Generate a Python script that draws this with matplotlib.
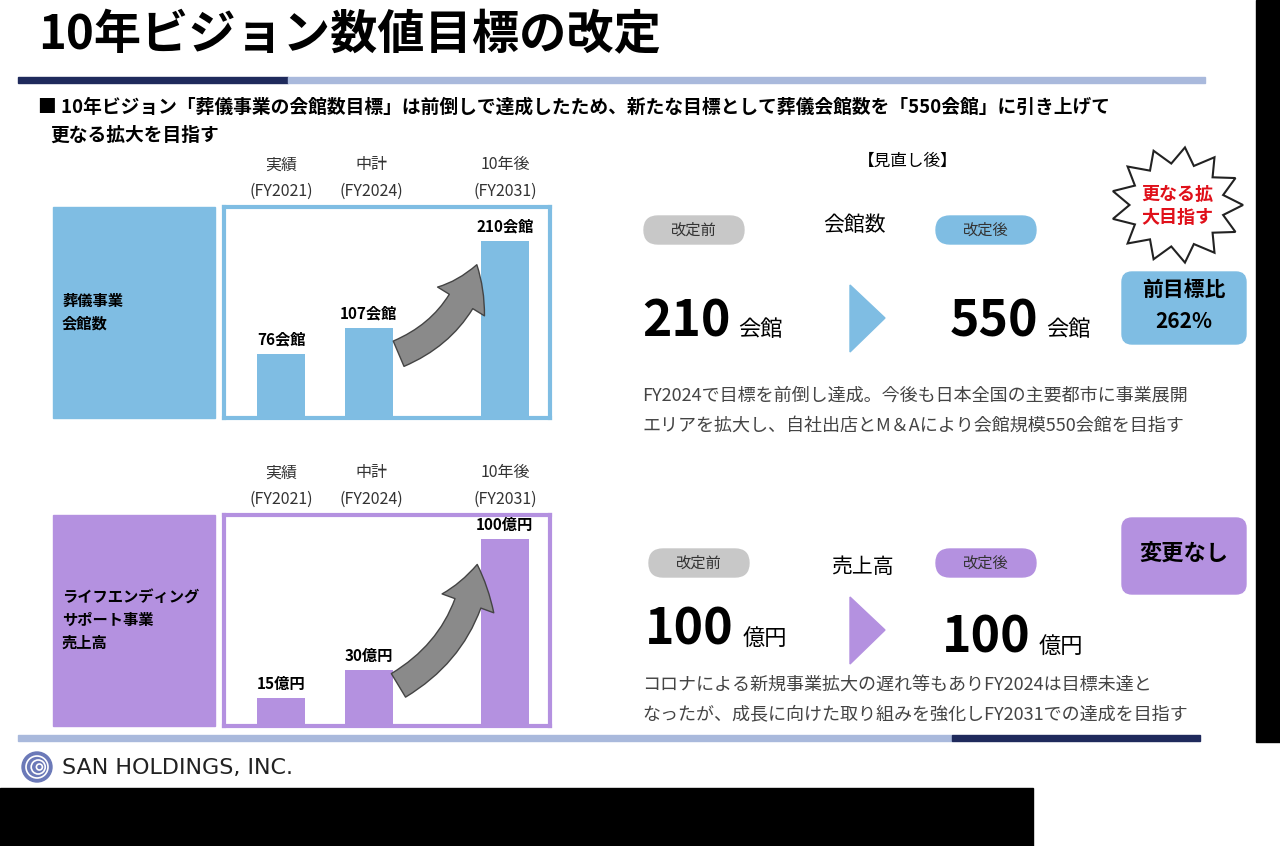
import numpy as np
import matplotlib.pyplot as plt
from matplotlib.patches import Rectangle, FancyBboxPatch, FancyArrowPatch, Polygon, Circle

plt.rcParams['font.family'] = 'Noto Sans CJK JP'

# data
periods = ['実績\n(FY2021)', '中計\n(FY2024)', '10年後\n(FY2031)']
halls = [76, 107, 210]
hall_labels = ['76会館', '107会館', '210会館']
sales = [15, 30, 100]
sales_labels = ['15億円', '30億円', '100億円']

BLUE = '#7fbde3'
PURPLE = '#b491e0'
NAVY = '#1f2a5c'
LIGHT = '#a9b9dc'

fig = plt.figure(figsize=(12.8, 8.46), dpi=100)
ax = fig.add_axes([0, 0, 1, 1])
ax.set_xlim(0, 1280)
ax.set_ylim(846, 0)
ax.axis('off')

def px(x, y, w, h):
    # pixel box -> figure fraction
    return [x / 1280, 1 - (y + h) / 846, w / 1280, h / 846]

# title and lines
ax.text(38, 35, '10年ビジョン数値目標の改定', fontsize=34, fontweight='bold', va='center')
ax.add_patch(Rectangle((18, 77), 270, 6, color=NAVY))
ax.add_patch(Rectangle((288, 77), 917, 6, color=LIGHT))
ax.add_patch(Rectangle((18, 735), 934, 6, color=LIGHT))
ax.add_patch(Rectangle((952, 735), 248, 6, color=NAVY))
ax.add_patch(Rectangle((1256, 0), 24, 742, color='black'))
ax.add_patch(Rectangle((0, 788), 1033, 58, color='black'))

ax.text(38, 107, '■ 10年ビジョン「葬儀事業の会館数目標」は前倒しで達成したため、新たな目標として葬儀会館数を「550会館」に引き上げて',
        fontsize=13.5, fontweight='bold', va='center')
ax.text(50, 135, '更なる拡大を目指す', fontsize=13.5, fontweight='bold', va='center')

# logo
ax.add_patch(Circle((37, 767), 15, color='#6b79b8'))
for r in (11, 7, 3):
    ax.add_patch(Circle((37 + (11 - r) * 0.3, 767), r, fill=False, ec='white', lw=1.2))
ax.text(62, 768, 'SAN HOLDINGS, INC.', fontsize=16, va='center', family='DejaVu Sans', color='#222')

XS = [0.63, 1.60, 3.10]

def panel(y0, values, labels, color, side_text, ymax):
    ax.add_patch(Rectangle((53, y0), 162, 211, color=color))
    ax.text(62, y0 + 105, side_text, fontsize=11, fontweight='bold', va='center', linespacing=1.5)
    for i, p in enumerate(periods):
        xc = [281, 371, 505][i]
        ax.text(xc, y0 - 29, p, fontsize=11.5, ha='center', va='center', color='#333', linespacing=1.7)
    b = fig.add_axes(px(224, y0, 326, 211))
    b.bar(XS, values, width=0.53, color=color)
    b.set_xlim(0, 3.6)
    b.set_ylim(0, ymax)
    b.set_xticks([]); b.set_yticks([])
    for s in b.spines.values():
        s.set_color(color); s.set_linewidth(3)
    for x, v, l in zip(XS, values, labels):
        b.text(x, v + ymax * 0.03, l, ha='center', va='bottom', fontsize=11, fontweight='bold')
    b.add_patch(FancyArrowPatch((1.9, values[1] * 0.7), (2.8, values[2] * 0.88),
                                connectionstyle='arc3,rad=0.25',
                                arrowstyle='simple,head_width=2.2,head_length=1.6,tail_width=1.1',
                                mutation_scale=18, fc='#8a8a8a', ec='#444', lw=1))

panel(207, halls, hall_labels, BLUE, '葬儀事業\n会館数', 250)
panel(515, sales, sales_labels, PURPLE, 'ライフエンディング\nサポート事業\n売上高', 113)

# right side
def pill(xc, yc, w, txt, color):
    ax.add_patch(FancyBboxPatch((xc - w / 2, yc - 14), w, 28,
                                boxstyle='round,pad=0,rounding_size=14', color=color))
    ax.text(xc, yc, txt, fontsize=11, ha='center', va='center', color='#333')

ax.text(908, 161, '【見直し後】', fontsize=12, ha='center', va='center')
pill(694, 230, 100, '改定前', '#c8c8c8')
pill(986, 230, 100, '改定後', BLUE)
ax.text(855, 225, '会館数', fontsize=15, ha='center', va='center')
ax.text(642, 322, '210', fontsize=36, fontweight='bold', va='center')
ax.text(738, 330, '会館', fontsize=16, va='center')
ax.add_patch(Polygon([[850, 285], [885, 318], [850, 352]], color=BLUE))
ax.text(950, 322, '550', fontsize=36, fontweight='bold', va='center')
ax.text(1046, 330, '会館', fontsize=16, va='center')
ax.add_patch(FancyBboxPatch((1122, 272), 124, 72, boxstyle='round,pad=0,rounding_size=10', color=BLUE))
ax.text(1184, 289, '前目標比', fontsize=15, fontweight='bold', ha='center', va='center')
ax.text(1184, 321, '262%', fontsize=15, fontweight='bold', ha='center', va='center')
ax.text(642, 396, 'FY2024で目標を前倒し達成。今後も日本全国の主要都市に事業展開', fontsize=13, va='center', color='#444')
ax.text(642, 426, 'エリアを拡大し、自社出店とM＆Aにより会館規模550会館を目指す', fontsize=13, va='center', color='#444')

# starburst
n = 13
ang = np.linspace(0, 2 * np.pi, 2 * n, endpoint=False)
rad = np.where(np.arange(2 * n) % 2 == 0, 1.0, 0.72)
star = np.c_[1177 + 66 * rad * np.cos(ang), 205 + 58 * rad * np.sin(ang)]
ax.add_patch(Polygon(star, fc='white', ec='#222', lw=1.5))
ax.text(1177, 206, '更なる拡\n大目指す', fontsize=13, fontweight='bold', color='#e0101a',
        ha='center', va='center', linespacing=1.3)

pill(699, 563, 100, '改定前', '#c8c8c8')
pill(986, 563, 100, '改定後', PURPLE)
ax.text(862, 567, '売上高', fontsize=15, ha='center', va='center')
ax.text(645, 630, '100', fontsize=36, fontweight='bold', va='center')
ax.text(743, 638, '億円', fontsize=16, va='center')
ax.add_patch(Polygon([[850, 597], [885, 630], [850, 664]], color=PURPLE))
ax.text(942, 638, '100', fontsize=36, fontweight='bold', va='center')
ax.text(1039, 646, '億円', fontsize=16, va='center')
ax.add_patch(FancyBboxPatch((1122, 518), 124, 76, boxstyle='round,pad=0,rounding_size=10', color=PURPLE))
ax.text(1184, 554, '変更なし', fontsize=16, fontweight='bold', ha='center', va='center')
ax.text(642, 686, 'コロナによる新規事業拡大の遅れ等もありFY2024は目標未達と', fontsize=13, va='center', color='#444')
ax.text(642, 714, 'なったが、成長に向けた取り組みを強化しFY2031での達成を目指す', fontsize=13, va='center', color='#444')

fig.savefig('out.png', dpi=100)
